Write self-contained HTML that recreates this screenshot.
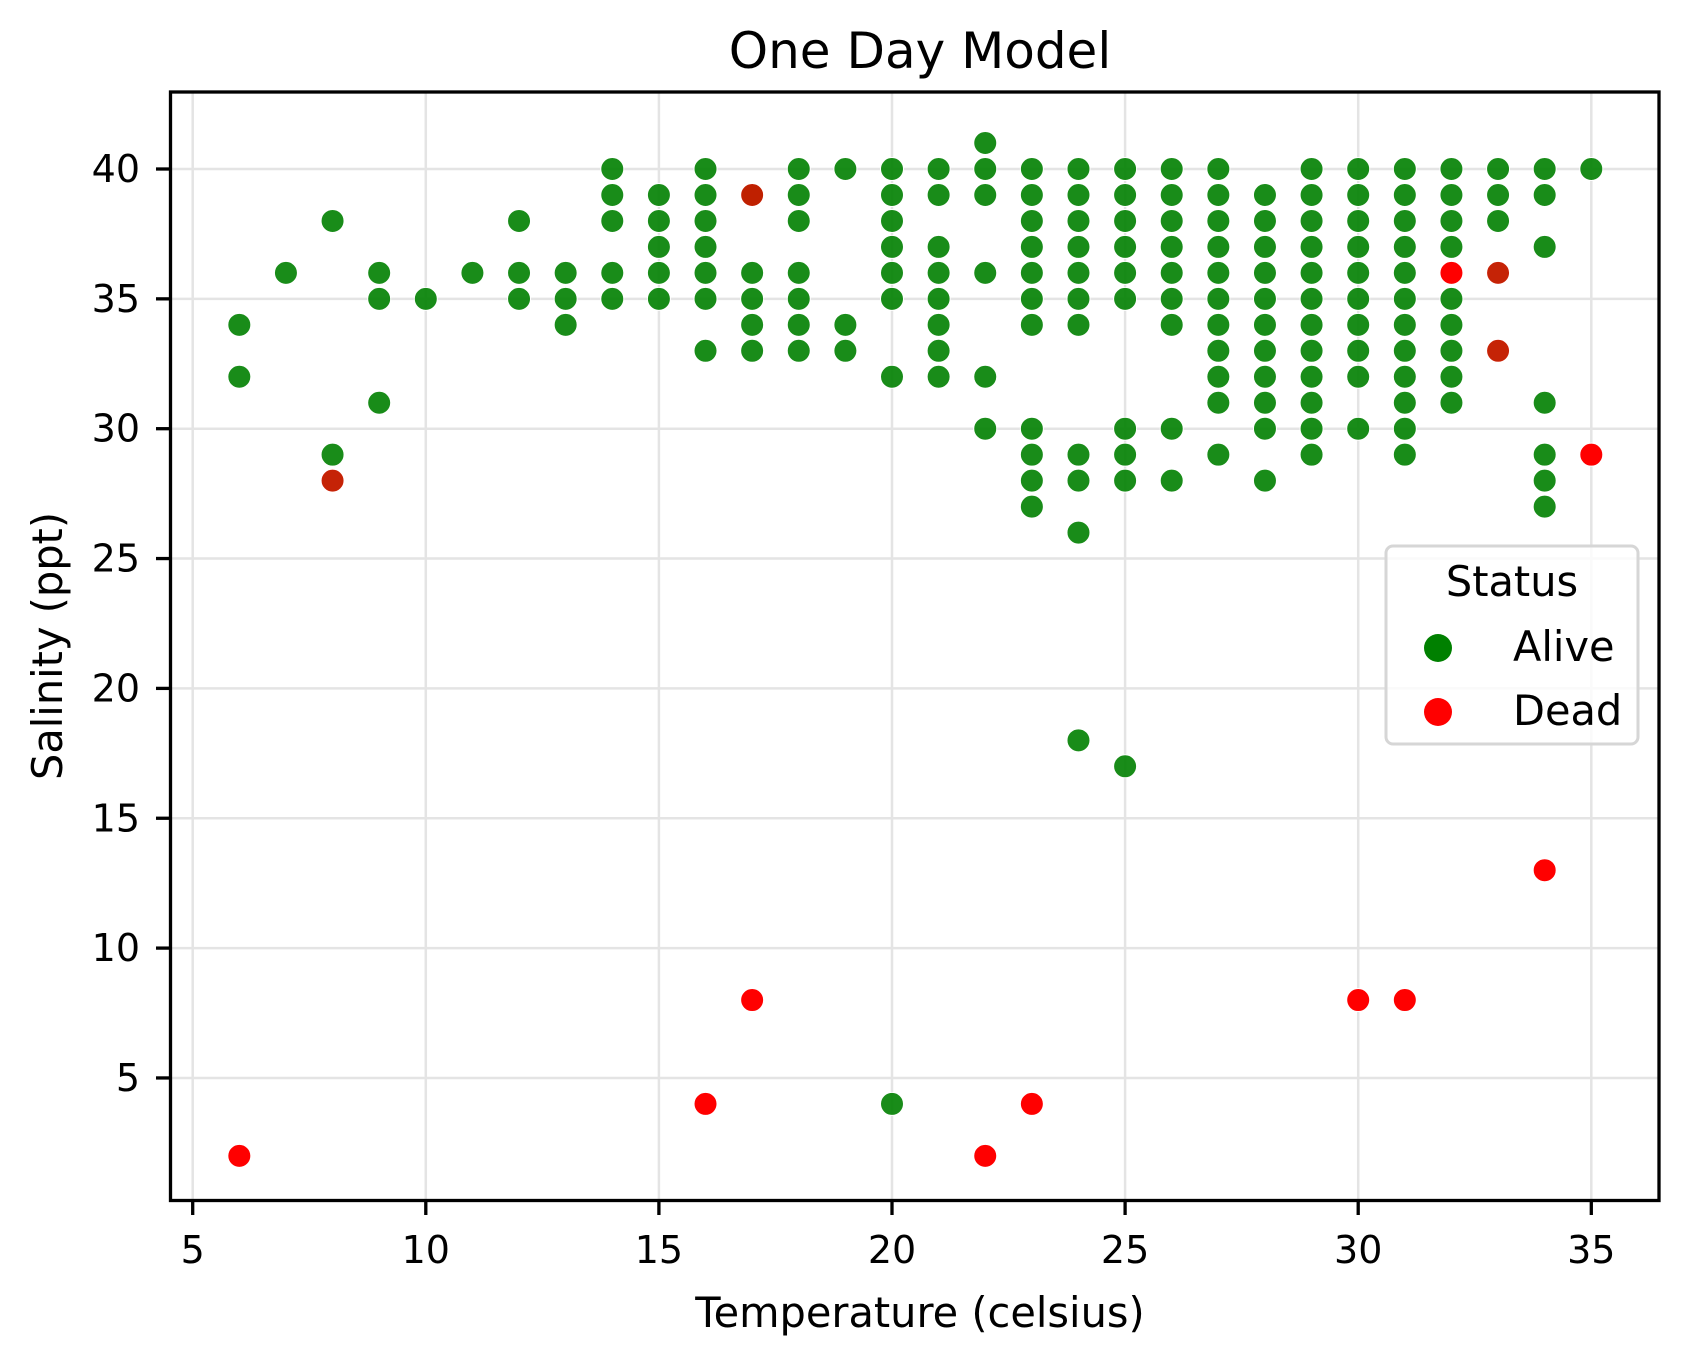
<!DOCTYPE html>
<html><head><meta charset="utf-8"><style>
html,body{margin:0;padding:0;background:#fff}
svg{display:block;font-family:"DejaVu Sans","Liberation Sans",sans-serif}
</style></head><body>
<svg id="chart" width="1688" height="1361" viewBox="0 0 1688 1361" xmlns="http://www.w3.org/2000/svg">
<rect x="0" y="0" width="1688" height="1361" fill="#fff"/>
<g id="grid"></g>
<g id="points"></g>
<rect x="170.5" y="92" width="1488.5" height="1108.5" fill="none" stroke="#000" stroke-width="3.3"/>
<g id="xticks"></g>
<g id="yticks"></g>
<text x="920" y="68" font-size="50" text-anchor="middle">One Day Model</text>
<text x="920" y="1327" font-size="41.5" text-anchor="middle">Temperature (celsius)</text>
<text x="0" y="0" font-size="41.5" text-anchor="middle" transform="translate(62,646) rotate(-90)">Salinity (ppt)</text>
<g>
<rect x="1386" y="546" width="252" height="198" rx="7" fill="#fff" fill-opacity="0.8" stroke="#d6d6d6" stroke-width="3"/>
<text x="1512" y="596" font-size="41.5" text-anchor="middle">Status</text>
<circle cx="1438" cy="648" r="14" fill="#008000"/>
<text x="1513" y="661" font-size="41.5">Alive</text>
<circle cx="1438" cy="712" r="14" fill="#ff0000"/>
<text x="1513" y="725" font-size="41.5">Dead</text>
</g>
</svg>
<script>
const xTicks=[5,10,15,20,25,30,35];
const yTicks=[5,10,15,20,25,30,35,40];
const aliveT=[6,6,7,8,8,8,9,9,9,10,11,12,12,12,13,13,13,14,14,14,14,14,15,15,15,15,15,16,16,16,16,16,16,16,17,17,17,17,17,17,18,18,18,18,18,18,18,19,19,19,20,20,20,20,20,20,20,20,21,21,21,21,21,21,21,21,22,22,22,22,22,22,23,23,23,23,23,23,23,23,23,23,23,24,24,24,24,24,24,24,24,24,24,24,25,25,25,25,25,25,25,25,25,25,26,26,26,26,26,26,26,26,26,27,27,27,27,27,27,27,27,27,27,27,28,28,28,28,28,28,28,28,28,28,28,29,29,29,29,29,29,29,29,29,29,29,29,30,30,30,30,30,30,30,30,30,30,31,31,31,31,31,31,31,31,31,31,31,31,32,32,32,32,32,32,32,32,32,33,33,33,33,33,34,34,34,34,34,34,34,35];
const aliveS=[34,32,36,38,29,28,36,35,31,35,36,38,36,35,36,35,34,40,39,38,36,35,39,38,37,36,35,40,39,38,37,36,35,33,39,36,35,34,33,39,40,39,38,36,35,34,33,40,34,33,40,39,38,37,36,35,32,4,40,39,37,36,35,34,33,32,41,40,39,36,32,30,40,39,38,37,36,35,34,30,29,28,27,40,39,38,37,36,35,34,29,28,26,18,40,39,38,37,36,35,30,29,28,17,40,39,38,37,36,35,34,30,28,40,39,38,37,36,35,34,33,32,31,29,39,38,37,36,35,34,33,32,31,30,28,40,39,38,37,36,35,34,33,32,31,30,29,40,39,38,37,36,35,34,33,32,30,40,39,38,37,36,35,34,33,32,31,30,29,40,39,38,37,35,34,33,32,31,40,39,38,36,33,40,39,37,31,29,28,27,40];
const deadT=[6,8,16,17,17,22,23,30,31,32,33,33,34,35];
const deadS=[2,28,4,39,8,2,4,8,8,36,36,33,13,29];
const NS='http://www.w3.org/2000/svg';
const xs=v=>192.7+(v-5)*46.62;
const ys=v=>169+(40-v)*25.97;
function mk(tag,attrs,parent){const e=document.createElementNS(NS,tag);for(const k in attrs)e.setAttribute(k,attrs[k]);parent.appendChild(e);return e;}
const grid=document.getElementById('grid'),pts=document.getElementById('points'),xg=document.getElementById('xticks'),yg=document.getElementById('yticks');
xTicks.forEach(t=>{
  const l=mk('line',{x1:xs(t),x2:xs(t),y1:92,y2:1200,stroke:'#e4e4e4','stroke-width':2.5},grid);
  
  
  const k=mk('line',{x1:xs(t),x2:xs(t),y1:1200,y2:1215,stroke:'#000','stroke-width':3.3},xg);
  
  
  const tx=mk('text',{x:xs(t),y:1263,'font-size':38,'text-anchor':'middle'},xg);tx.textContent=t;
  
  
});
yTicks.forEach(t=>{
  const l=mk('line',{x1:170,x2:1659,y1:ys(t),y2:ys(t),stroke:'#e4e4e4','stroke-width':2.5},grid);
  
  
  const k=mk('line',{x1:156,x2:171,y1:ys(t),y2:ys(t),stroke:'#000','stroke-width':3.3},yg);
  
  
  const tx=mk('text',{x:140,y:ys(t)+13,'font-size':38,'text-anchor':'end'},yg);tx.textContent=t;
  
  
});
const aliveKeys=new Set(aliveT.map((t,i)=>t+'_'+aliveS[i]));
aliveT.forEach((t,i)=>{
  const c=mk('circle',{cx:xs(t),cy:ys(aliveS[i]),r:11.5,fill:'#008000','fill-opacity':0.9,stroke:'#fff','stroke-width':1},pts);
  
  
});
deadT.forEach((t,i)=>{
  const over=aliveKeys.has(t+'_'+deadS[i]);
  const c=mk('circle',{cx:xs(t),cy:ys(deadS[i]),r:11.5,fill:over?'#ff0000':'#ff0000','fill-opacity':over?0.75:1,stroke:'#fff','stroke-width':1},pts);
  
  
});
</script>
</body></html>
